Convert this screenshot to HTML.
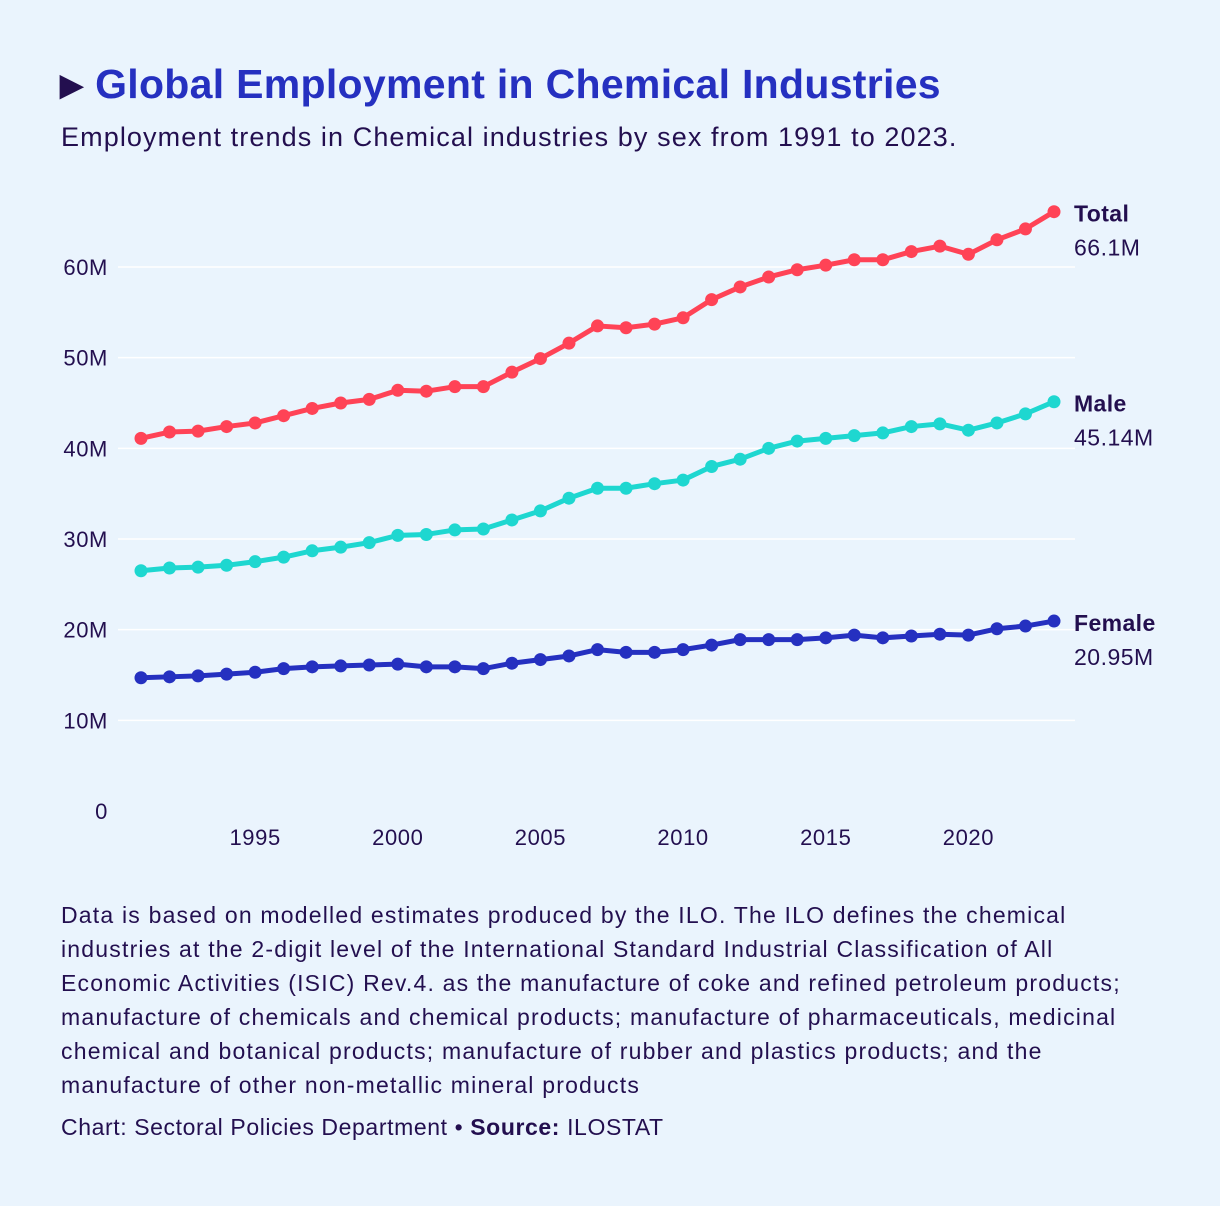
<!DOCTYPE html>
<html><head><meta charset="utf-8"><style>
body{margin:0;background:#eaf4fd;font-family:"Liberation Sans",sans-serif;color:#230f4f}
#wrap{position:relative;width:1220px;height:1206px;overflow:hidden}
h1{position:absolute;left:60px;top:61px;margin:0;font-size:41px;font-weight:bold;color:#2530c0;letter-spacing:0.3px}
.sub{position:absolute;left:61px;top:122px;font-size:27px;letter-spacing:1.1px}
.note{position:absolute;left:61px;top:898px;width:1150px;font-size:23px;letter-spacing:1.2px;line-height:34px;white-space:nowrap}
.src{position:absolute;left:61px;top:1114px;font-size:23px;letter-spacing:0.6px}
svg{position:absolute;left:0;top:0}
</style></head><body><div id="wrap">
<h1><span style="color:#230f4f;font-size:30px;position:relative;top:-3px">&#9654;</span> Global Employment in Chemical Industries</h1>
<div class="sub">Employment trends in Chemical industries by sex from 1991 to 2023.</div>
<svg id="chart" width="1220" height="1206"></svg>
<div class="note">Data is based on modelled estimates produced by the ILO. The ILO defines the chemical<br>industries at the 2-digit level of the International Standard Industrial Classification of All<br>Economic Activities (ISIC) Rev.4. as the manufacture of coke and refined petroleum products;<br>manufacture of chemicals and chemical products; manufacture of pharmaceuticals, medicinal<br>chemical and botanical products; manufacture of rubber and plastics products; and the<br>manufacture of other non-metallic mineral products</div>
<div class="src">Chart: Sectoral Policies Department • <b>Source:</b> ILOSTAT</div>
</div>
<script>
const years=[];for(let y=1991;y<=2023;y++)years.push(y);
const total=[41.1,41.8,41.9,42.4,42.8,43.6,44.4,45.0,45.4,46.4,46.3,46.8,46.8,48.4,49.9,51.6,53.5,53.3,53.7,54.4,56.4,57.8,58.9,59.7,60.2,60.8,60.8,61.7,62.3,61.4,63.0,64.2,66.1];
const male=[26.5,26.8,26.9,27.1,27.5,28.0,28.7,29.1,29.6,30.4,30.5,31.0,31.1,32.1,33.1,34.5,35.6,35.6,36.1,36.5,38.0,38.8,40.0,40.8,41.1,41.4,41.7,42.4,42.7,42.0,42.8,43.8,45.14];
const female=[14.7,14.8,14.9,15.1,15.3,15.7,15.9,16.0,16.1,16.2,15.9,15.9,15.7,16.3,16.7,17.1,17.8,17.5,17.5,17.8,18.3,18.9,18.9,18.9,19.1,19.4,19.1,19.3,19.5,19.4,20.1,20.4,20.95];
const yTicks=[0,10,20,30,40,50,60];
const yTickLabels=["0","10M","20M","30M","40M","50M","60M"];
const xTicks=[1995,2000,2005,2010,2015,2020];
const series=[{name:"Total",vals:total,color:"#ff4356",label:"66.1M"},{name:"Male",vals:male,color:"#1ed7d0",label:"45.14M"},{name:"Female",vals:female,color:"#2530c0",label:"20.95M"}];
const NS="http://www.w3.org/2000/svg",svg=document.getElementById('chart');
const X=y=>141+(y-1991)*(1054-141)/32, Y=v=>811-v*(811-267)/60;
function mk(t,a){const e=document.createElementNS(NS,t);for(const k in a)e.setAttribute(k,a[k]);svg.appendChild(e);return e;}
yTicks.forEach((t,i)=>{
 if(t>0){const l=mk('line',{x1:118,x2:1075,y1:Y(t),y2:Y(t),stroke:'#ffffff','stroke-width':1.5});
 
 }
 const tx=mk('text',{x:108,y:Y(t)+8,'text-anchor':'end','font-size':22,'letter-spacing':'0.6',fill:'#230f4f'});tx.textContent=yTickLabels[i];
 
 
});
xTicks.forEach(t=>{const tx=mk('text',{x:X(t),y:845,'text-anchor':'middle','font-size':22,'letter-spacing':'0.6',fill:'#230f4f'});tx.textContent=t;
 
 });
series.forEach(s=>{
 const p=mk('polyline',{points:s.vals.map((v,i)=>X(years[i])+','+Y(v)).join(' '),fill:'none',stroke:s.color,'stroke-width':5,'stroke-linejoin':'round'});
 
 
 s.vals.forEach((v,i)=>{const c=mk('circle',{cx:X(years[i]),cy:Y(v),r:6.5,fill:s.color});
  
  });
 const ly=Y(s.vals[s.vals.length-1]);
 const t1=mk('text',{x:1074,y:ly+10,'font-size':23,'font-weight':'bold','letter-spacing':'0.4',fill:'#230f4f'});t1.textContent=s.name;
 
 
 const t2=mk('text',{x:1074,y:ly+44,'font-size':23,'letter-spacing':'0.5',fill:'#230f4f'});t2.textContent=s.label;
 
 
});
</script></body></html>
